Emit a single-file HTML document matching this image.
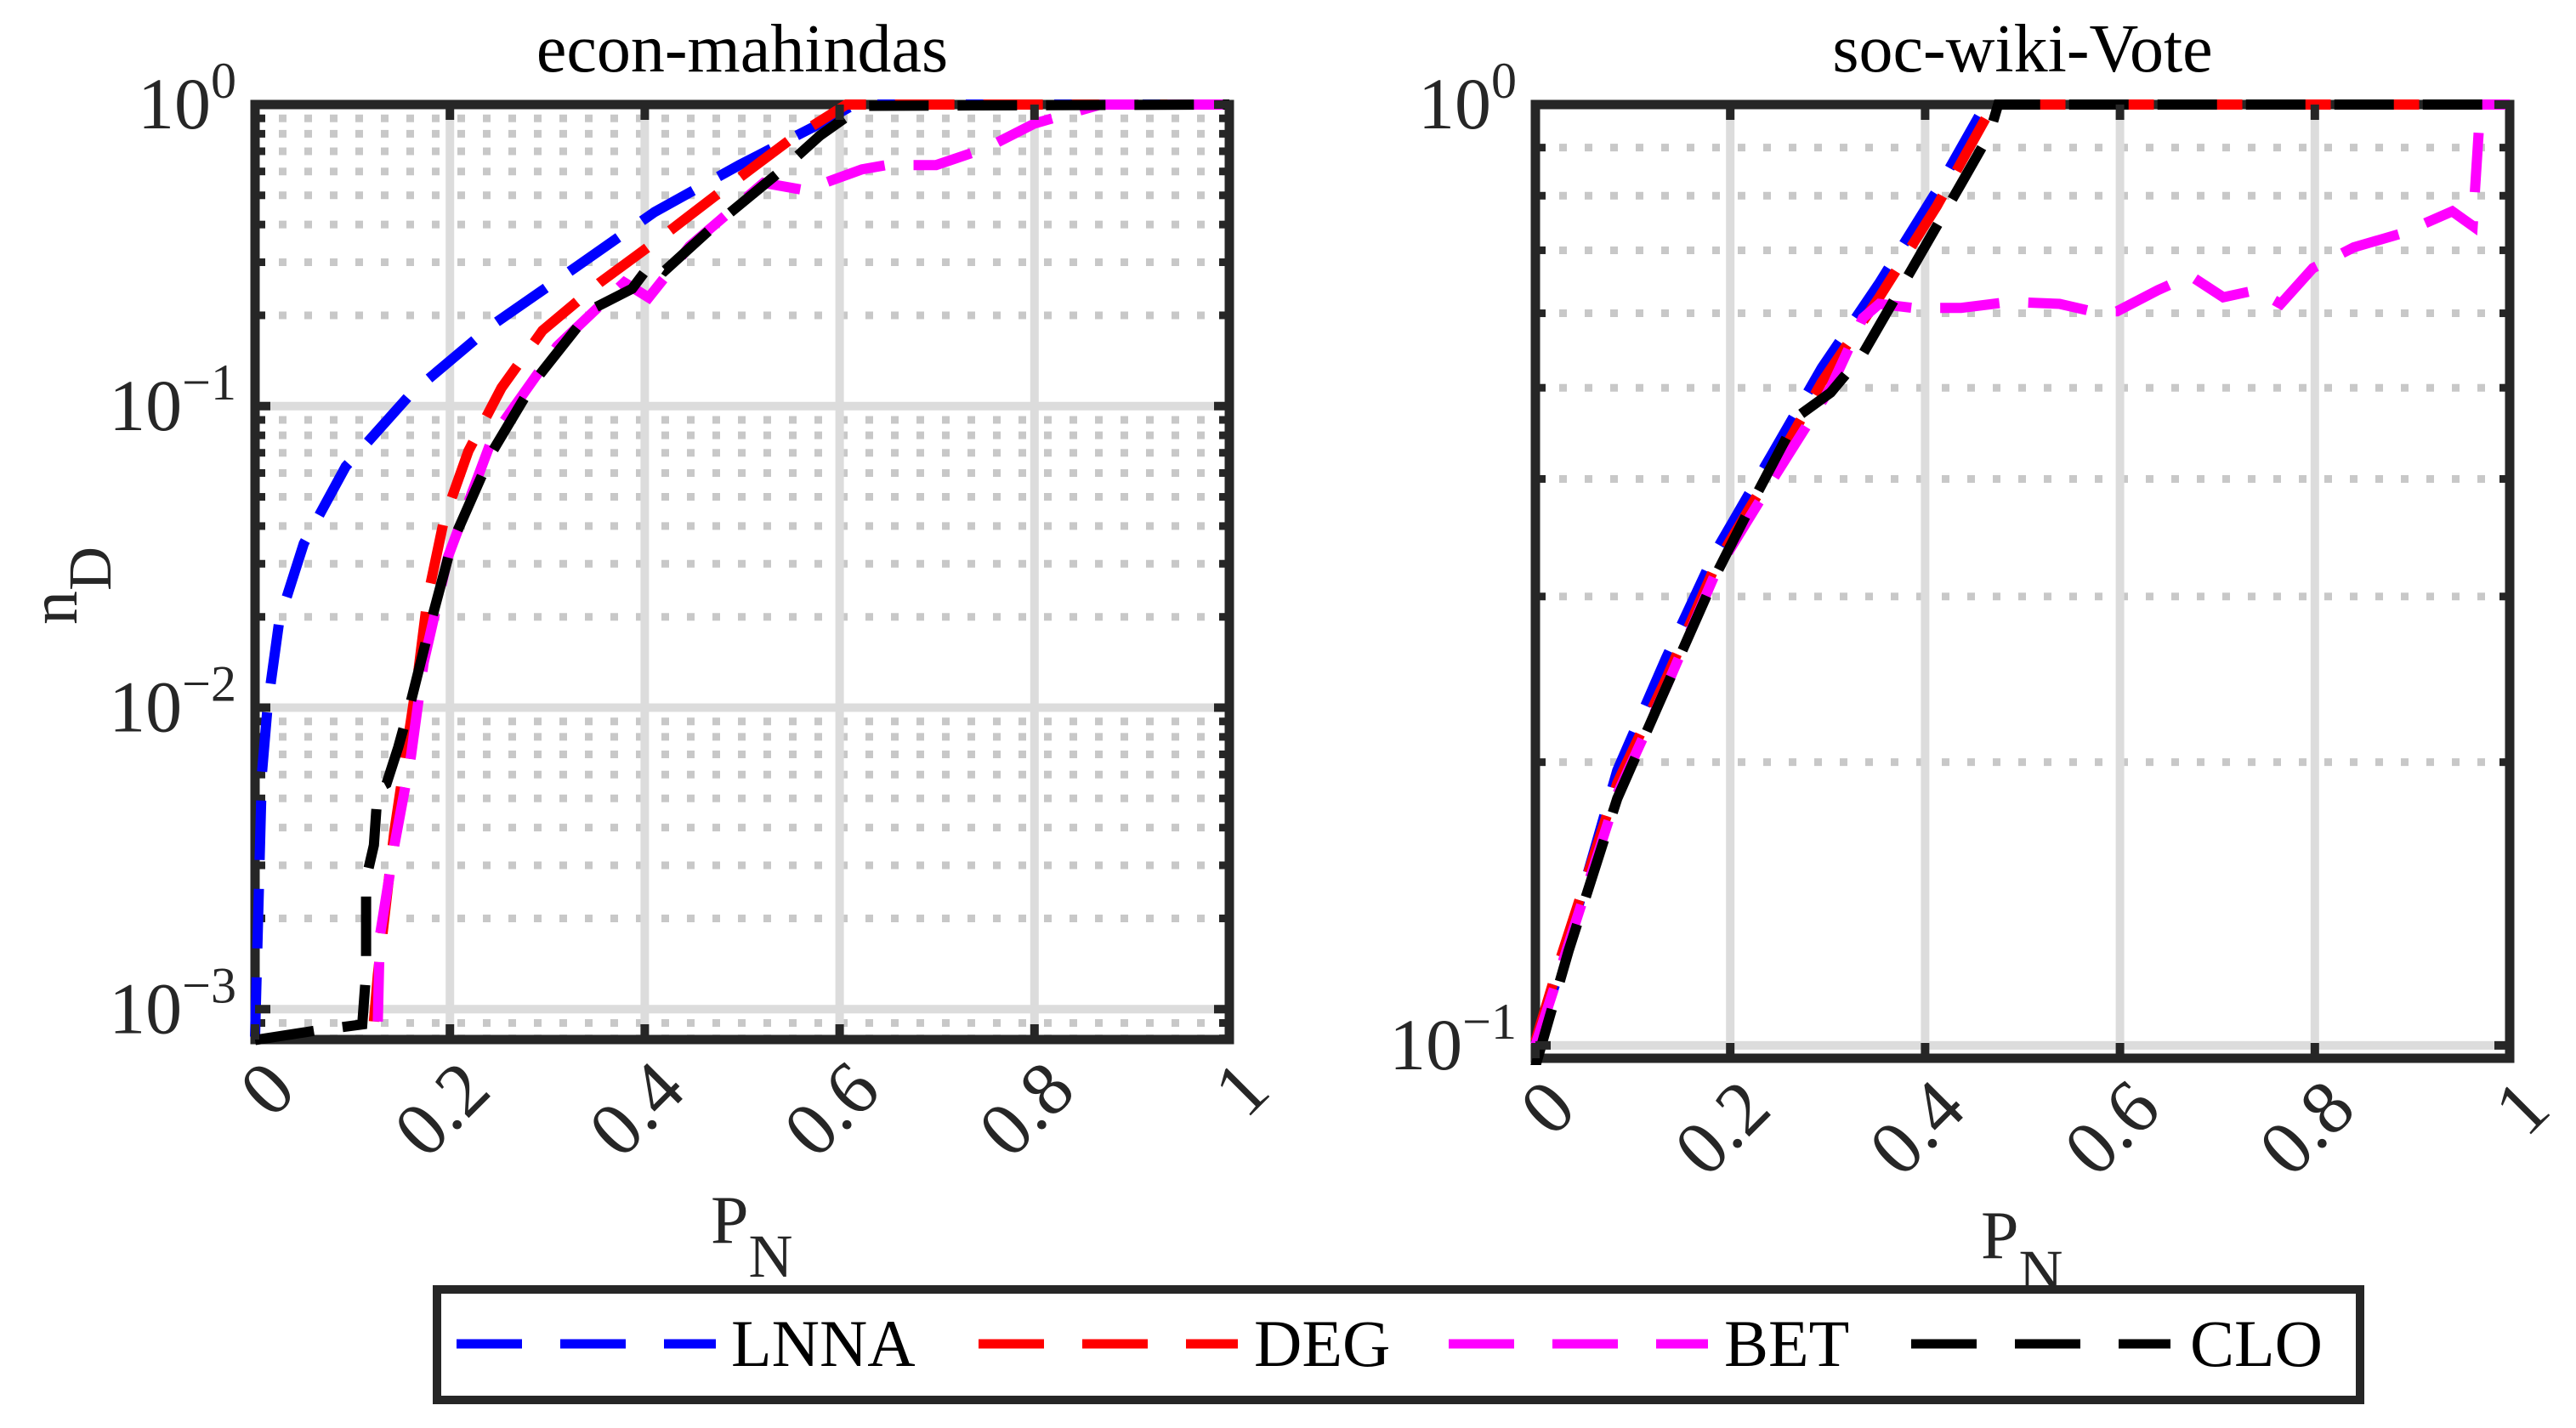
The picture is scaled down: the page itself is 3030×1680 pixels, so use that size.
<!DOCTYPE html>
<html><head><meta charset="utf-8">
<style>
html,body{margin:0;padding:0;background:#fff;}
svg{display:block;font-family:"Liberation Serif",serif;}
</style></head>
<body>
<svg id="fig" width="3030" height="1680" viewBox="0 0 3030 1680" xmlns="http://www.w3.org/2000/svg">
<rect x="0" y="0" width="3030" height="1680" fill="#fff"/>
<g id="leftPlot"></g>
<g id="rightPlot"></g>
<g id="legend">
  <rect x="514" y="1517" width="2262" height="130" fill="#fff" stroke="#262626" stroke-width="10"/>
  <g>
    <line x1="537" y1="1581" x2="842" y2="1581" stroke="#0000ff" stroke-width="11" stroke-dasharray="77 45"/>
    <text x="860" y="1607" font-size="78" fill="#000">LNNA</text>
  </g>
  <g>
    <line x1="1151" y1="1581" x2="1456" y2="1581" stroke="#ff0000" stroke-width="11" stroke-dasharray="77 45"/>
    <text x="1475" y="1607" font-size="78" fill="#000">DEG</text>
  </g>
  <g>
    <line x1="1704" y1="1581" x2="2009" y2="1581" stroke="#ff00ff" stroke-width="11" stroke-dasharray="77 45"/>
    <text x="2028" y="1607" font-size="78" fill="#000">BET</text>
  </g>
  <g>
    <line x1="2248" y1="1581" x2="2553" y2="1581" stroke="#000000" stroke-width="11" stroke-dasharray="77 45"/>
    <text x="2576" y="1607" font-size="78" fill="#000">CLO</text>
  </g>
</g>
</svg>
<script>
// ---------- data: econ-mahindas ----------
const xTicks = [0, 0.2, 0.4, 0.6, 0.8, 1];
const xTickLabels = ["0", "0.2", "0.4", "0.6", "0.8", "1"];
const leftYTickExp = [-3, -2, -1, 0];
const rightYTickExp = [-1, 0];

const leftLnnaX = [0,0.007,0.013,0.025,0.05,0.093,0.16,0.244,0.33,0.41,0.497,0.58,0.615,1];
const leftLnnaY = [0.00081,0.006,0.0102,0.0195,0.035,0.063,0.11,0.186,0.29,0.44,0.63,0.865,1,1];
const leftDegX = [0.122,0.126,0.143,0.168,0.177,0.194,0.219,0.253,0.295,0.354,0.413,0.48,0.548,0.607,1];
const leftDegY = [0.00091,0.0013,0.0039,0.0135,0.023,0.042,0.071,0.115,0.178,0.257,0.355,0.52,0.76,1,1];
const leftBetX = [0.126,0.128,0.143,0.16,0.173,0.198,0.244,0.31,0.379,0.404,0.446,0.522,0.564,0.623,0.648,0.699,0.75,0.8,0.868,1];
const leftBetY = [0.00091,0.00174,0.0035,0.0069,0.0141,0.0316,0.079,0.158,0.257,0.229,0.339,0.55,0.52,0.61,0.63,0.63,0.716,0.865,1,1];
const leftCloX = [0,0.063,0.11,0.114,0.114,0.122,0.126,0.135,0.147,0.16,0.177,0.202,0.244,0.286,0.345,0.387,0.408,0.421,0.472,0.539,0.58,0.623,1];
const leftCloY = [0.00079,0.00085,0.00089,0.00132,0.0027,0.0035,0.0054,0.0056,0.0074,0.0105,0.0174,0.035,0.071,0.12,0.209,0.245,0.302,0.282,0.398,0.6,0.79,0.99,1];

// ---------- data: soc-wiki-Vote ----------
const rightLnnaX = [0,0.025,0.084,0.134,0.185,0.244,0.294,0.353,0.412,0.462,1];
const rightLnnaY = [0.101,0.12,0.196,0.258,0.335,0.427,0.525,0.646,0.81,1,1];
const rightDegX = [0,0.025,0.084,0.134,0.185,0.244,0.294,0.353,0.412,0.47,1];
const rightDegY = [0.101,0.123,0.19,0.245,0.324,0.41,0.507,0.624,0.78,1,1];
const rightBetX = [0,0.025,0.084,0.134,0.185,0.244,0.303,0.336,0.353,0.387,0.437,0.487,0.538,0.571,0.597,0.639,0.672,0.706,0.74,0.765,0.798,0.84,0.89,0.941,0.962,0.97,1];
const rightBetY = [0.1,0.12,0.185,0.24,0.318,0.4,0.5,0.593,0.614,0.608,0.608,0.617,0.614,0.603,0.603,0.635,0.658,0.624,0.635,0.614,0.67,0.705,0.73,0.77,0.743,1,1];
const rightCloX = [0,0.034,0.084,0.134,0.185,0.227,0.269,0.303,0.336,0.387,0.437,0.466,0.475,1];
const rightCloY = [0.095,0.126,0.183,0.24,0.316,0.385,0.466,0.494,0.543,0.67,0.824,0.93,1,1];

const NS = "http://www.w3.org/2000/svg";
function mk(tag, attrs, parent) {
  const e = document.createElementNS(NS, tag);
  for (const k in attrs) e.setAttribute(k, attrs[k]);
  parent.appendChild(e);
  return e;
}

function drawPlot(g, cfg) {
  const L = cfg.left, R = cfg.right, T = cfg.top, B = cfg.bottom;
  const lmin = Math.log10(cfg.ymin), lmax = 0;
  const sx = v => L + (v - 0) / (1 - 0) * (R - L);
  const sy = v => B - (Math.log10(v) - lmin) / (lmax - lmin) * (B - T);
  const id = cfg.id;

  const defs = mk("defs", {}, g);
  const cp = mk("clipPath", {id: id + "clip"}, defs);
  mk("rect", {x: L - 8, y: T - 8, width: R - L + 16, height: B - T + 16}, cp);

  for (let e = Math.floor(lmin); e < 0; e++) {
    for (let m = 2; m <= 9; m++) {
      const v = m * Math.pow(10, e);
      if (v < cfg.ymin || v > 1) continue;
      const y = sy(v);
      const ln = mk("line", {x1: L + 28, x2: R, y1: y, y2: y, stroke: "#c8c8c8", "stroke-width": 9, "stroke-dasharray": "9 21"}, g);
      
      
      const tk1 = mk("line", {x1: L, x2: L + 12, y1: y, y2: y, stroke: "#262626", "stroke-width": 9}, g);
      
      
      const tk2 = mk("line", {x1: R - 12, x2: R, y1: y, y2: y, stroke: "#262626", "stroke-width": 9}, g);
      
      
    }
  }
  cfg.yExp.forEach(e => {
    const y = sy(Math.pow(10, e));
    const ln = mk("line", {x1: L, x2: R, y1: y, y2: y, stroke: "#dcdcdc", "stroke-width": 10}, g);
    
    
  });
  xTicks.forEach(v => {
    const x = sx(v);
    const ln = mk("line", {x1: x, x2: x, y1: T, y2: B, stroke: "#dcdcdc", "stroke-width": 10}, g);
    
    
  });

  const box = mk("rect", {x: L, y: T, width: R - L, height: B - T, fill: "none", stroke: "#262626", "stroke-width": 11}, g);
  
  

  const colors = ["#0000ff", "#ff0000", "#ff00ff", "#000000"];
  const names = ["lnna", "deg", "bet", "clo"];
  const sg = mk("g", {"clip-path": "url(#" + id + "clip)"}, g);
  cfg.series.forEach((s, i) => {
    const d = s[0].map((xv, j) => (j ? "L" : "M") + sx(xv).toFixed(1) + "," + sy(s[1][j]).toFixed(1)).join(" ");
    const p = mk("path", {d: d, fill: "none", stroke: colors[i], "stroke-width": 12, "stroke-dasharray": "70 34"}, sg);
    
    
  });

  xTicks.forEach((v, i) => {
    const x = sx(v);
    mk("line", {x1: x, x2: x, y1: B, y2: B - 18, stroke: "#262626", "stroke-width": 10}, g);
    mk("line", {x1: x, x2: x, y1: T, y2: T + 18, stroke: "#262626", "stroke-width": 10}, g);
    const px = x + 30, py = B + 42;
    const t = mk("text", {x: px, y: py + 30, "font-size": 90, fill: "#262626", "text-anchor": "end",
      transform: "rotate(-45 " + px + " " + py + ")"}, g);
    t.textContent = xTickLabels[i];
    
    
  });
  cfg.yExp.forEach(e => {
    const y = sy(Math.pow(10, e));
    mk("line", {x1: L, x2: L + 18, y1: y, y2: y, stroke: "#262626", "stroke-width": 10}, g);
    mk("line", {x1: R - 18, x2: R, y1: y, y2: y, stroke: "#262626", "stroke-width": 10}, g);
    const t = mk("text", {x: L - 22, y: y + 28, "font-size": 86, fill: "#262626", "text-anchor": "end"}, g);
    
    
    const base = mk("tspan", {}, t);
    base.textContent = "10";
    const sup = mk("tspan", {dy: -36, "font-size": 60}, t);
    sup.textContent = e === 0 ? "0" : "\u2212" + (-e);
  });

  const tt = mk("text", {x: (L + R) / 2, y: 84, "font-size": 80, fill: "#000", "text-anchor": "middle"}, g);
  tt.textContent = cfg.title;
  
  
  const xl = mk("text", {x: cfg.xlabX, y: cfg.xlabY, "font-size": 80, fill: "#262626"}, g);
  
  
  const p1 = mk("tspan", {}, xl); p1.textContent = "P";
  const p2 = mk("tspan", {dy: 40, "font-size": 72}, xl); p2.textContent = "N";
}

drawPlot(document.getElementById("leftPlot"), {
  id: "l", left: 300, right: 1446, top: 123, bottom: 1223, ymin: 0.000793,
  yExp: leftYTickExp, title: "econ-mahindas", xlabX: 836, xlabY: 1462,
  series: [[leftLnnaX, leftLnnaY], [leftDegX, leftDegY], [leftBetX, leftBetY], [leftCloX, leftCloY]]
});
drawPlot(document.getElementById("rightPlot"), {
  id: "r", left: 1806, right: 2952, top: 123, bottom: 1245, ymin: 0.0969,
  yExp: rightYTickExp, title: "soc-wiki-Vote", xlabX: 2330, xlabY: 1480,
  series: [[rightLnnaX, rightLnnaY], [rightDegX, rightDegY], [rightBetX, rightBetY], [rightCloX, rightCloY]]
});

const svg = document.getElementById("fig");
const yl = mk("text", {x: 0, y: 0, "font-size": 80, fill: "#262626", transform: "translate(90 735) rotate(-90)"}, svg);


const n1 = mk("tspan", {}, yl); n1.textContent = "n";
const n2 = mk("tspan", {dy: 40, "font-size": 72}, yl); n2.textContent = "D";
</script>
</body></html>
